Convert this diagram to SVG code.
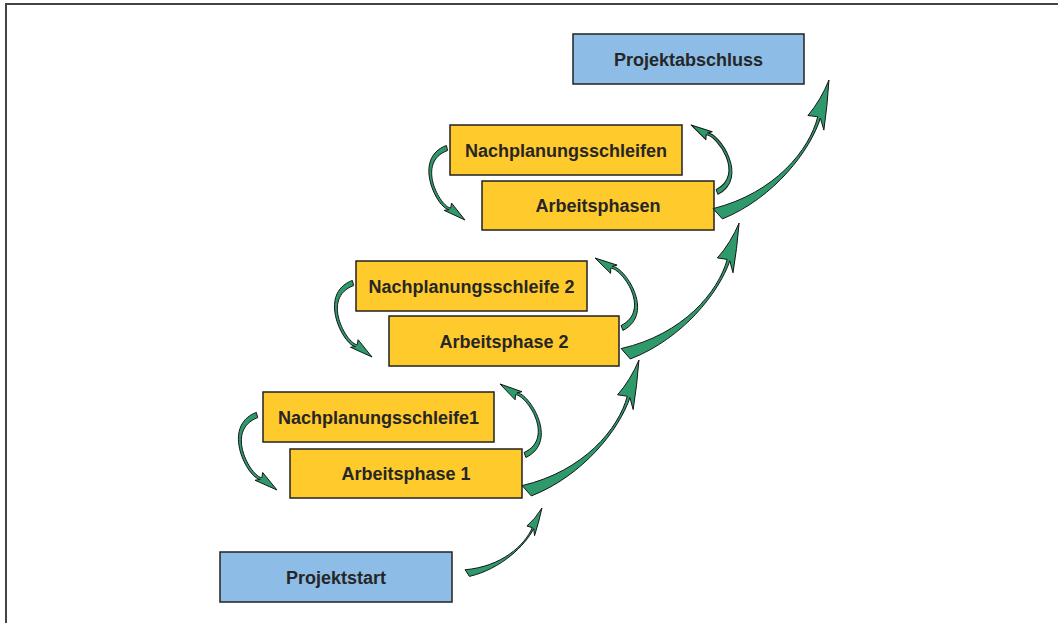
<svg xmlns="http://www.w3.org/2000/svg" xmlns:xlink="http://www.w3.org/1999/xlink" width="1058" height="623" viewBox="0 0 1058 623">
<style>
.frame{fill:none;stroke:#444;stroke-width:2}
.blue{fill:#8DBDE6;stroke:#222;stroke-width:1.5}
.yel{fill:#FFCA2C;stroke:#222;stroke-width:1.5}
.lbl{font-family:"Liberation Sans",Arial,sans-serif;font-weight:bold;font-size:18px;fill:#262626;text-anchor:middle}
.arr{fill:#2E9A6C;stroke:#161616;stroke-width:1;vector-effect:non-scaling-stroke;stroke-linejoin:round}
</style>
<defs>
<path id="big" class="arr" d="M -1,5 C 28,20 62,18 80,10.5 L 76,16.5 Q 88,9 100,0 Q 88,4 76.5,4 L 79.6,8.8 C 62,17.5 30,18.5 0,-3 Z"/>
<path id="loop" class="arr" d="M -3.5,0 C 2,50 77,32 81.3,17.3 L 80.6,24.1 L 100,0 L 73.5,12 L 79.7,14.7 C 75,28 8,46 3.5,0 Z"/>
</defs>
<rect width="1058" height="623" fill="#fff"/>
<path class="frame" d="M6,623 V4 H1058"/>
<g id="projektstart"><rect class="blue" x="220" y="552" width="232" height="50"/><text class="lbl" x="336" y="583.5">Projektstart</text></g>
<g id="nachplanungsschleife1"><rect class="yel" x="263" y="392" width="231" height="50"/><text class="lbl" x="378.5" y="423.5">Nachplanungsschleife1</text></g>
<g id="arbeitsphase1"><rect class="yel" x="290" y="449" width="232" height="49"/><text class="lbl" x="406" y="480">Arbeitsphase 1</text></g>
<g id="nachplanungsschleife2"><rect class="yel" x="356" y="261" width="231" height="50"/><text class="lbl" x="471.5" y="292.5">Nachplanungsschleife 2</text></g>
<g id="arbeitsphase2"><rect class="yel" x="389" y="316" width="230" height="50"/><text class="lbl" x="504" y="347.5">Arbeitsphase 2</text></g>
<g id="nachplanungsschleifen"><rect class="yel" x="450" y="125" width="232" height="50"/><text class="lbl" x="566" y="156.5">Nachplanungsschleifen</text></g>
<g id="arbeitsphasen"><rect class="yel" x="482" y="181" width="232" height="49"/><text class="lbl" x="598" y="212">Arbeitsphasen</text></g>
<g id="projektabschluss"><rect class="blue" x="573" y="34" width="231" height="50"/><text class="lbl" x="688.5" y="65.5">Projektabschluss</text></g>
<g id="connectors">
<use xlink:href="#big" transform="translate(467,572) rotate(-40.5) scale(0.986)"/>
<use xlink:href="#big" transform="translate(526,489) rotate(-48.8) scale(1.715)"/>
<use xlink:href="#big" transform="translate(625,352) rotate(-48.5) scale(1.722)"/>
<use xlink:href="#big" transform="translate(717,212) rotate(-49.7) scale(1.731)"/>
<use xlink:href="#loop" transform="translate(447,148) rotate(76) scale(0.742)"/>
<use xlink:href="#loop" transform="translate(353,283) rotate(75.6) scale(0.764)"/>
<use xlink:href="#loop" transform="translate(257,415) rotate(75.1) scale(0.776)"/>
<use xlink:href="#loop" transform="translate(717,192) rotate(-111.2) scale(0.719)"/>
<use xlink:href="#loop" transform="translate(622,328) rotate(-111.1) scale(0.75)"/>
<use xlink:href="#loop" transform="translate(525,455) rotate(-109.4) scale(0.753)"/>
</g>
</svg>
